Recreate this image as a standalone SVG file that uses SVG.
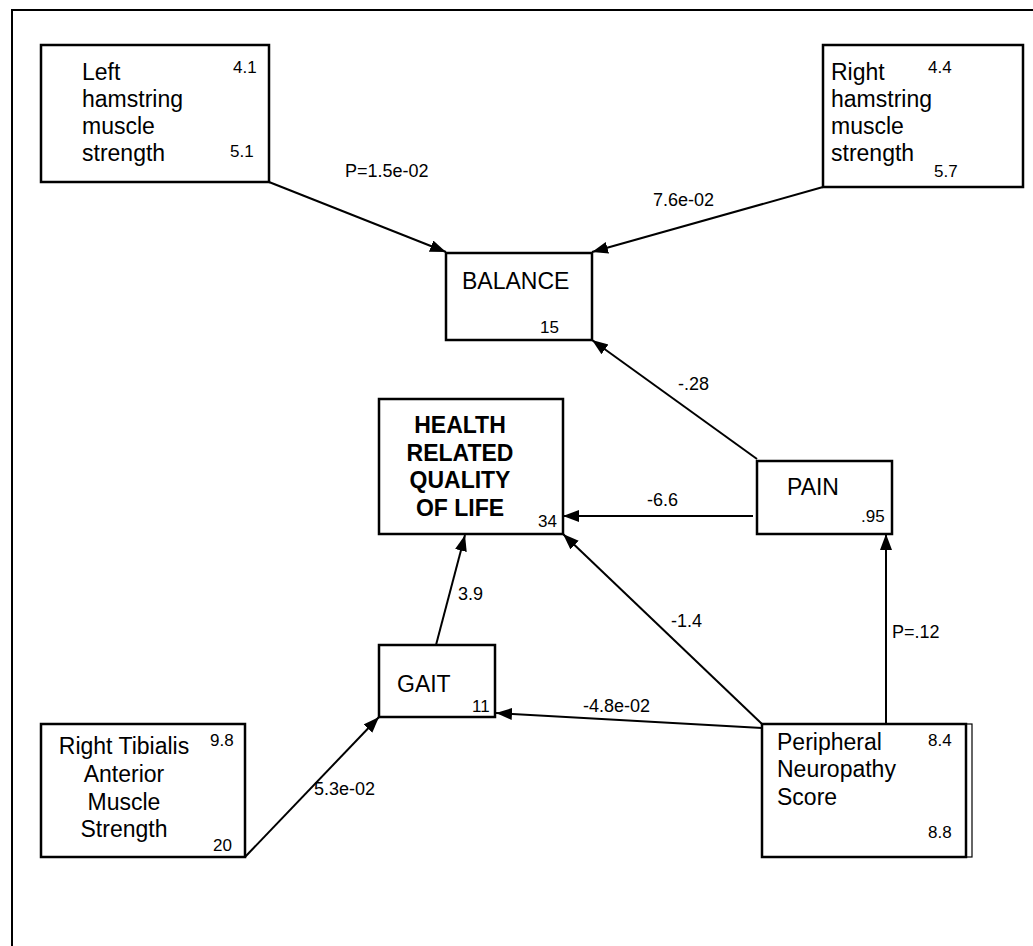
<svg xmlns="http://www.w3.org/2000/svg" width="1033" height="946" viewBox="0 0 1033 946">
<style>
.box{fill:#fff;stroke:#000;stroke-width:2.5}
.lbl{font-family:"Liberation Sans",Arial,sans-serif;font-size:23px;fill:#000}
.bold{font-weight:bold}
.num{font-family:"Liberation Sans",Arial,sans-serif;font-size:17px;fill:#000}
.elbl{font-family:"Liberation Sans",Arial,sans-serif;font-size:18px;fill:#000}
.edge{stroke:#000;stroke-width:2;fill:none;marker-end:url(#arr)}
</style>
<defs>
<marker id="arr" markerUnits="userSpaceOnUse" markerWidth="18" markerHeight="14" refX="16" refY="6" orient="auto">
<path d="M0,0 L16,6 L0,12 Z" fill="#000"/>
</marker>
</defs>
<rect width="1033" height="946" fill="#fff"/>
<path d="M12,946 V10 H1033" fill="none" stroke="#000" stroke-width="2"/>

<g id="connectors">
<line class="edge" x1="269" y1="182" x2="446" y2="252"/>
<line class="edge" x1="823" y1="187" x2="592" y2="252"/>
<line class="edge" x1="757" y1="459" x2="592" y2="340"/>
<line class="edge" x1="753" y1="516" x2="563" y2="516"/>
<line class="edge" x1="762" y1="724" x2="563" y2="534"/>
<line class="edge" x1="762" y1="728" x2="496" y2="713"/>
<line class="edge" x1="886" y1="724" x2="886" y2="534"/>
<line class="edge" x1="436" y1="645" x2="465" y2="535"/>
<line class="edge" x1="245" y1="857" x2="379" y2="717"/>
<text class="elbl" x="345" y="177">P=1.5e-02</text>
<text class="elbl" x="653" y="206">7.6e-02</text>
<text class="elbl" x="678" y="390">-.28</text>
<text class="elbl" x="647" y="506">-6.6</text>
<text class="elbl" x="671" y="627">-1.4</text>
<text class="elbl" x="583" y="712">-4.8e-02</text>
<text class="elbl" x="892" y="638">P=.12</text>
<text class="elbl" x="458" y="600">3.9</text>
<text class="elbl" x="314" y="795">5.3e-02</text>
</g>

<g id="left-hamstring">
<rect class="box" x="41" y="45" width="228" height="137"/>
<text class="lbl" x="82" y="80">Left</text>
<text class="lbl" x="82" y="107">hamstring</text>
<text class="lbl" x="82" y="134">muscle</text>
<text class="lbl" x="82" y="161">strength</text>
<text class="num" x="233" y="73">4.1</text>
<text class="num" x="230" y="157">5.1</text>
</g>

<g id="right-hamstring">
<rect class="box" x="823" y="45" width="200" height="142"/>
<text class="lbl" x="831" y="80">Right</text>
<text class="lbl" x="831" y="107">hamstring</text>
<text class="lbl" x="831" y="134">muscle</text>
<text class="lbl" x="831" y="161">strength</text>
<text class="num" x="928" y="73">4.4</text>
<text class="num" x="934" y="177">5.7</text>
</g>

<g id="balance">
<rect class="box" x="446" y="253" width="146" height="87"/>
<text class="lbl" x="462" y="289">BALANCE</text>
<text class="num" x="540" y="333">15</text>
</g>

<g id="hrqol">
<rect class="box" x="379" y="399" width="184" height="135"/>
<text class="lbl bold" text-anchor="middle" x="460" y="433">HEALTH</text>
<text class="lbl bold" text-anchor="middle" x="460" y="461">RELATED</text>
<text class="lbl bold" text-anchor="middle" x="460" y="488">QUALITY</text>
<text class="lbl bold" text-anchor="middle" x="460" y="516">OF LIFE</text>
<text class="num" x="538" y="527">34</text>
</g>

<g id="pain">
<rect class="box" x="757" y="461" width="135" height="73"/>
<text class="lbl" x="787" y="495">PAIN</text>
<text class="num" x="861" y="522">.95</text>
</g>

<g id="gait">
<rect class="box" x="379" y="645" width="116" height="72"/>
<text class="lbl" x="397" y="692">GAIT</text>
<text class="num" x="472" y="712">11</text>
</g>

<g id="right-tibialis">
<rect class="box" x="41" y="724" width="204" height="133"/>
<text class="lbl" text-anchor="middle" x="124" y="754">Right Tibialis</text>
<text class="lbl" text-anchor="middle" x="124" y="782">Anterior</text>
<text class="lbl" text-anchor="middle" x="124" y="810">Muscle</text>
<text class="lbl" text-anchor="middle" x="124" y="837">Strength</text>
<text class="num" x="210" y="746">9.8</text>
<text class="num" x="213" y="851">20</text>
</g>

<g id="peripheral-neuropathy">
<rect x="762" y="724" width="210" height="133" fill="#fff" stroke="#000" stroke-width="1.2"/>
<rect class="box" x="762" y="724" width="204" height="133"/>
<text class="lbl" x="777" y="750">Peripheral</text>
<text class="lbl" x="777" y="777">Neuropathy</text>
<text class="lbl" x="777" y="805">Score</text>
<text class="num" x="928" y="746">8.4</text>
<text class="num" x="928" y="838">8.8</text>
</g>
</svg>
